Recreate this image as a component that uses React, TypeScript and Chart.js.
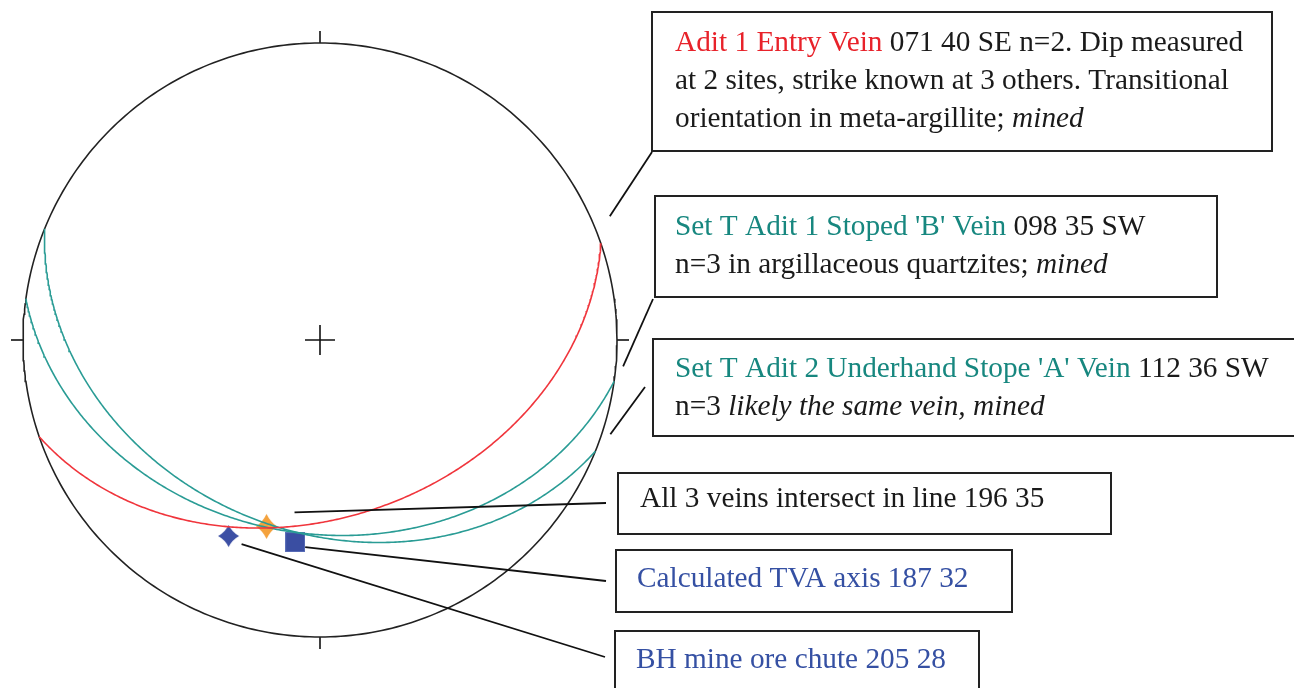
import React, { useEffect, useRef } from "react";
import { Chart, registerables } from "chart.js";

Chart.register(...registerables);

// Planes (veins): strike, dip and dip quadrant
const planeNames = ["Adit 1 Entry Vein", "Set T Adit 1 Stoped 'B' Vein", "Set T Adit 2 Underhand Stope 'A' Vein"];
const planeStrikes = [71, 98, 112];
const planeDips = [40, 35, 36];
const planeQuadrants = ["SE", "SW", "SW"];
const planeCounts = [2, 3, 3];
const planeColors = ["#f0353c", "#2a9c95", "#2a9c95"];
const planeTextColors = ["#e8222a", "#17877f", "#17877f"];

// Lines (axes): trend and plunge
const lineNames = ["All 3 veins intersect in line", "Calculated TVA axis", "BH mine ore chute"];
const lineTrends = [196, 187, 205];
const linePlunges = [35, 32, 28];
const lineTextColors = ["#1a1a1a", "#3550a3", "#3550a3"];

const FONT = '"Liberation Serif", "Times New Roman", serif';
const FONT_SIZE = 29.3;
const LINE_GAP = 38;

const rad = (d: number) => (d * Math.PI) / 180;
const pad3 = (n: number) => String(n).padStart(3, "0");

// Schmidt (equal-area, lower hemisphere) projection of a direction (east, north, down)
function project(e: number, n: number, d: number) {
  const f = 1 / Math.sqrt(1 + d);
  return { x: e * f, y: n * f };
}

function projectLine(trend: number, plunge: number) {
  const t = rad(trend);
  const p = rad(plunge);
  return project(Math.cos(p) * Math.sin(t), Math.cos(p) * Math.cos(t), Math.sin(p));
}

function dipDirection(strike: number, quadrant: string) {
  const cands = [(strike + 90) % 360, (strike + 270) % 360];
  const match = cands.find((a) => {
    const ns = Math.cos(rad(a)) >= 0 ? "N" : "S";
    const ew = Math.sin(rad(a)) >= 0 ? "E" : "W";
    return quadrant.includes(ns) && quadrant.includes(ew);
  });
  return match ?? cands[0];
}

function greatCircle(strike: number, dip: number, quadrant: string) {
  const dd = rad(dipDirection(strike, quadrant));
  const s = rad(strike);
  const dp = rad(dip);
  const sv = [Math.sin(s), Math.cos(s), 0];
  const dv = [Math.cos(dp) * Math.sin(dd), Math.cos(dp) * Math.cos(dd), Math.sin(dp)];
  const pts: { x: number; y: number }[] = [];
  for (let a = 0; a <= 180; a += 0.5) {
    const c = Math.cos(rad(a));
    const sn = Math.sin(rad(a));
    const v = [c * sv[0] + sn * dv[0], c * sv[1] + sn * dv[1], Math.max(0, c * sv[2] + sn * dv[2])];
    pts.push(project(v[0], v[1], v[2]));
  }
  return pts;
}

function primitive() {
  const pts: { x: number; y: number }[] = [];
  for (let a = 0; a <= 360; a += 1) pts.push({ x: Math.sin(rad(a)), y: Math.cos(rad(a)) });
  return pts;
}

// Marker glyphs
function starGlyph(w: number, h: number, fill: string, alpha: number, k: number) {
  const c = document.createElement("canvas");
  c.width = w + 2;
  c.height = h + 2;
  const g = c.getContext("2d")!;
  const cx = c.width / 2;
  const cy = c.height / 2;
  const hw = w / 2;
  const hh = h / 2;
  g.globalAlpha = alpha;
  g.fillStyle = fill;
  g.beginPath();
  g.moveTo(cx, cy - hh);
  g.quadraticCurveTo(cx + hw * k, cy - hh * k, cx + hw, cy);
  g.quadraticCurveTo(cx + hw * k, cy + hh * k, cx, cy + hh);
  g.quadraticCurveTo(cx - hw * k, cy + hh * k, cx - hw, cy);
  g.quadraticCurveTo(cx - hw * k, cy - hh * k, cx, cy - hh);
  g.closePath();
  g.fill();
  return c;
}

function squareGlyph(size: number, fill: string) {
  const c = document.createElement("canvas");
  c.width = size;
  c.height = size;
  const g = c.getContext("2d")!;
  g.fillStyle = fill;
  g.fillRect(0, 0, size, size);
  g.strokeStyle = "#5b6fb8";
  g.lineWidth = 1;
  g.strokeRect(0.5, 0.5, size - 1, size - 1);
  return c;
}

type Run = { text: string; color: string; italic?: boolean };

// Callout box layout
const boxRects = [
  { x: 652, y: 12, w: 620, h: 139, tx: 675, ty: 51 },
  { x: 655, y: 196, w: 562, h: 101, tx: 675, ty: 235 },
  { x: 653, y: 339, w: 660, h: 97, tx: 675, ty: 377 },
  { x: 618, y: 473, w: 493, h: 61, tx: 640, ty: 507 },
  { x: 616, y: 550, w: 396, h: 62, tx: 637, ty: 587 },
  { x: 615, y: 631, w: 364, h: 80, tx: 636, ty: 668 },
];
// Leader line box-side points and mark-side pixel offsets
const planeLeaderStarts = [[652, 152], [653, 299], [645, 387]];
const planeLeaderOffsets = [[9, -27], [9, -15], [15, -17]];
const lineLeaderStarts = [[606, 503], [606, 581], [605, 657]];
const lineLeaderOffsets = [[28, -14], [10, 5], [13, 8]];

function planeLabel(i: number): Run[][] {
  const head = `${pad3(planeStrikes[i])} ${planeDips[i]} ${planeQuadrants[i]}`;
  const k = "#1a1a1a";
  if (i === 0)
    return [
      [
        { text: planeNames[0], color: planeTextColors[0] },
        { text: ` ${head} n=${planeCounts[0]}. Dip measured`, color: k },
      ],
      [{ text: "at 2 sites, strike known at 3 others. Transitional", color: k }],
      [
        { text: "orientation in meta-argillite; ", color: k },
        { text: "mined", color: k, italic: true },
      ],
    ];
  if (i === 1)
    return [
      [
        { text: planeNames[1], color: planeTextColors[1] },
        { text: ` ${head}`, color: k },
      ],
      [
        { text: `n=${planeCounts[1]} in argillaceous quartzites; `, color: k },
        { text: "mined", color: k, italic: true },
      ],
    ];
  return [
    [
      { text: planeNames[2], color: planeTextColors[2] },
      { text: ` ${head}`, color: k },
    ],
    [
      { text: `n=${planeCounts[2]} `, color: k },
      { text: "likely the same vein, mined", color: k, italic: true },
    ],
  ];
}

function lineLabel(i: number): Run[][] {
  return [[{ text: `${lineNames[i]} ${lineTrends[i]} ${linePlunges[i]}`, color: lineTextColors[i] }]];
}

const calloutPlugin = {
  id: "calloutBoxes",
  afterDatasetsDraw(chart: any) {
    const { ctx, scales } = chart;
    const sx = scales.x;
    const sy = scales.y;
    ctx.save();
    ctx.strokeStyle = "#111";
    ctx.lineWidth = 1.8;
    ctx.lineCap = "butt";

    // leaders to great-circle ends on the primitive
    planeStrikes.forEach((s, i) => {
      const end = projectLine(s, 0);
      const px = sx.getPixelForValue(end.x) + planeLeaderOffsets[i][0];
      const py = sy.getPixelForValue(end.y) + planeLeaderOffsets[i][1];
      ctx.beginPath();
      ctx.moveTo(planeLeaderStarts[i][0], planeLeaderStarts[i][1]);
      ctx.lineTo(px, py);
      ctx.stroke();
    });
    // leaders to the line markers
    lineTrends.forEach((t, i) => {
      const p = projectLine(t, linePlunges[i]);
      const px = sx.getPixelForValue(p.x) + lineLeaderOffsets[i][0];
      const py = sy.getPixelForValue(p.y) + lineLeaderOffsets[i][1];
      ctx.beginPath();
      ctx.moveTo(lineLeaderStarts[i][0], lineLeaderStarts[i][1]);
      ctx.lineTo(px, py);
      ctx.stroke();
    });

    const labels = [0, 1, 2].map(planeLabel).concat([0, 1, 2].map(lineLabel));
    labels.forEach((lines, bi) => {
      const b = boxRects[bi];
      ctx.fillStyle = "#fff";
      ctx.fillRect(b.x, b.y, b.w, b.h);
      ctx.strokeStyle = "#222";
      ctx.lineWidth = 2;
      ctx.strokeRect(b.x, b.y, b.w, b.h);
      ctx.textBaseline = "alphabetic";
      ctx.textAlign = "left";
      lines.forEach((runs, li) => {
        let x = b.tx;
        const y = b.ty + li * LINE_GAP;
        runs.forEach((r) => {
          ctx.font = `${r.italic ? "italic " : ""}${FONT_SIZE}px ${FONT}`;
          ctx.fillStyle = r.color;
          ctx.fillText(r.text, x, y);
          x += ctx.measureText(r.text).width;
        });
      });
    });
    ctx.restore();
  },
};

export default function App() {
  const ref = useRef<HTMLCanvasElement | null>(null);

  useEffect(() => {
    document.body.style.margin = "0";
    const canvas = ref.current!;
    const tick = 0.0404;
    const cardinal = [0, 90, 180, 270];

    const planeSets = planeStrikes.map((s, i) => ({
      type: "scatter" as const,
      label: planeNames[i],
      data: greatCircle(s, planeDips[i], planeQuadrants[i]),
      showLine: true,
      borderColor: planeColors[i],
      borderWidth: 1.6,
      pointRadius: 0,
      clip: false as any,
      order: 1,
    }));

    const tickSets = cardinal.map((a) => ({
      type: "scatter" as const,
      label: `tick ${a}`,
      data: [
        { x: Math.sin(rad(a)), y: Math.cos(rad(a)) },
        { x: (1 + tick) * Math.sin(rad(a)), y: (1 + tick) * Math.cos(rad(a)) },
      ],
      showLine: true,
      borderColor: "#111",
      borderWidth: 1.6,
      pointRadius: 0,
      clip: false as any,
      order: 3,
    }));

    const markerStyles = [
      starGlyph(21, 25, "#f39a2c", 0.92, 0.36),
      squareGlyph(20, "#3a4ea2"),
      starGlyph(21, 22, "#3c4fa4", 1, 0.34),
    ];
    const markerSets = lineTrends.map((t, i) => ({
      type: "scatter" as const,
      label: lineNames[i],
      data: [projectLine(t, linePlunges[i])],
      pointStyle: markerStyles[i] as any,
      pointRadius: 10,
      clip: false as any,
      order: 2,
    }));

    const chart = new Chart(canvas, {
      type: "scatter",
      data: {
        datasets: [
          ...planeSets,
          ...markerSets,
          {
            label: "primitive",
            data: primitive(),
            showLine: true,
            borderColor: "#222",
            borderWidth: 1.6,
            pointRadius: 0,
            clip: false as any,
            order: 3,
          },
          ...tickSets,
          {
            label: "centre",
            data: [{ x: 0, y: 0 }],
            pointStyle: "cross",
            pointRadius: 15,
            borderColor: "#111",
            borderWidth: 1.6,
            order: 3,
          },
        ] as any,
      },
      options: {
        animation: false,
        responsive: false,
        devicePixelRatio: 1,
        layout: { padding: { left: 23, top: 43, right: 677, bottom: 51 } },
        scales: {
          x: { type: "linear", min: -1, max: 1, display: false },
          y: { type: "linear", min: -1, max: 1, display: false },
        },
        plugins: {
          legend: { display: false },
          tooltip: { enabled: false },
        },
        events: [],
      },
      plugins: [calloutPlugin],
    });
    return () => chart.destroy();
  }, []);

  return (
    <div style={{ position: "fixed", left: 0, top: 0, width: 1294, height: 688, background: "#fff" }}>
      <canvas ref={ref} width={1294} height={688} style={{ display: "block" }} />
    </div>
  );
}
